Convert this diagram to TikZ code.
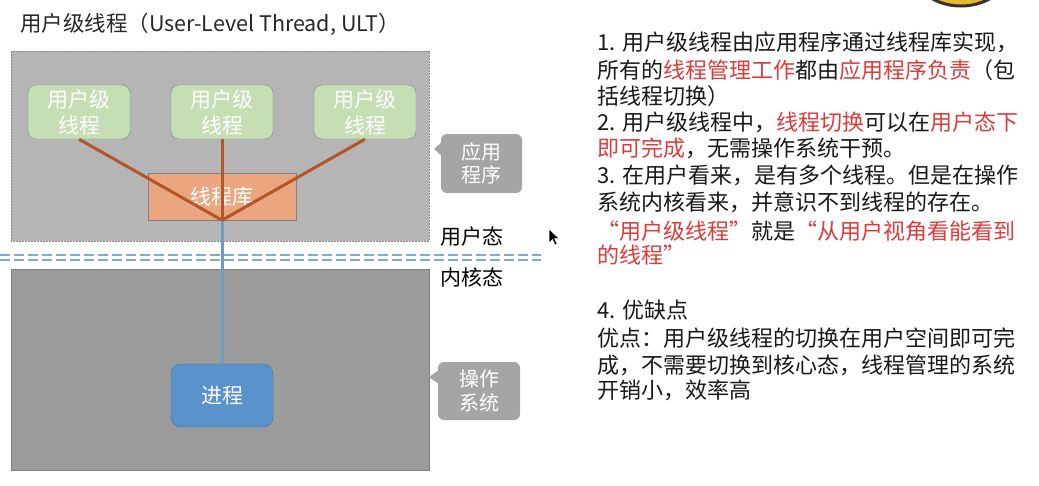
\documentclass[tikz,border=0pt]{standalone}
\usepackage{fontspec}
\setmainfont{Noto Sans CJK SC}
\usepackage{tikz}
\usetikzlibrary{positioning}

\definecolor{userPanel}{HTML}{B5B5B5}
\definecolor{kernelPanel}{HTML}{9B9B9B}
\definecolor{thrFill}{HTML}{C6DEB4}
\definecolor{thrLine}{HTML}{6F8F87}
\definecolor{libFill}{HTML}{E9A67F}
\definecolor{linkBrown}{HTML}{B4552A}
\definecolor{linkBlue}{HTML}{6C9BCB}
\definecolor{procFill}{HTML}{5A93CC}
\definecolor{procLine}{HTML}{44739F}
\definecolor{tagFill}{HTML}{A5A5A5}
\definecolor{modeBlue}{HTML}{7EA9DA}
\definecolor{hlred}{HTML}{E03A3A}
\definecolor{avatarYellow}{HTML}{E6B92A}
\newcommand{\redtxt}[1]{\textcolor{hlred}{#1}}

\begin{document}
\begin{tikzpicture}[x=1pt,y=-1pt,
  thread/.style={draw=thrLine, fill=thrFill, rounded corners=8pt, minimum width=102pt, minimum height=54pt,
    inner sep=0pt, align=center, text=white, font=\fontsize{21}{26}\selectfont},
  tag/.style={fill=tagFill, rounded corners=6pt, inner sep=0pt, align=center, text=white},
  link/.style={line width=3pt},
  note/.style={anchor=west, inner sep=0pt, font=\fontsize{22}{26}\selectfont, text=black!90}]
  \fill[white] (0,0) rectangle (1039,485);
  \useasboundingbox (0,0) rectangle (1039,485);
  \begin{scope}
    \clip (0,0) rectangle (1039,485);
    \filldraw[fill=avatarYellow, draw=black!80, line width=3pt] (961,-55) circle[radius=61pt];
  \end{scope}

  % panels and mode line
  \filldraw[fill=userPanel, draw=black!45, dash pattern=on 2pt off 1pt, line width=0.6pt] (11,51) rectangle (429,241);
  \filldraw[fill=kernelPanel, draw=black!50, line width=0.6pt] (11,269) rectangle (429,470);
  \draw[modeBlue, line width=2.2pt, dash pattern=on 10pt off 4pt] (0,255.3) -- (541,255.3) (0,259.7) -- (541,259.7);

  \node[anchor=west, inner sep=0pt, text=black!85, font=\fontsize{21.5}{24}\selectfont] (title) at (20,24) {用户级线程（User-Level Thread, ULT）};

  \node[thread] (t1) at (79,112) {用户级\\线程};
  \node[thread] (t2) at (222,112) {用户级\\线程};
  \node[thread] (t3) at (365,112) {用户级\\线程};
  \node[draw=black!50, fill=libFill, minimum width=148pt, minimum height=47pt, inner sep=0pt, text=white,
    font=\fontsize{21}{24}\selectfont] (lib) at (222,196.5) {线程库};
  \node[draw=procLine, fill=procFill, rounded corners=10pt, minimum width=102pt, minimum height=63pt, inner sep=0pt,
    text=white, font=\fontsize{21}{24}\selectfont] (proc) at (222,395.5) {进程};

  \path
  (lib.south) edge[link, linkBlue] (proc.north)
  (t1.south) edge[link, linkBrown] (lib.south)
  (t2.south) edge[link, linkBrown] (lib.south)
  (t3.south) edge[link, linkBrown] (lib.south)
  ;

  % callouts
  \node[tag, minimum width=81pt, minimum height=59pt, font=\fontsize{20}{22.5}\selectfont] (app) at (481.5,163.5) {应用\\程序};
  \coordinate (app-tip) at (434,149);
  \fill[tagFill] ([xshift=1pt,yshift=21.5pt]app.west) -- (app-tip) -- ([xshift=1pt,yshift=7.5pt]app.west) -- cycle;
  \node[tag, minimum width=82pt, minimum height=58pt, font=\fontsize{20}{24}\selectfont] (os) at (479,391) {操作\\系统};
  \coordinate (os-tip) at (429,377);
  \fill[tagFill] ([xshift=1pt,yshift=21pt]os.west) -- (os-tip) -- ([xshift=1pt,yshift=7pt]os.west) -- cycle;

  \node[anchor=west, inner sep=0pt, font=\fontsize{21}{24}\selectfont] (umode) at (440,237) {用户态};
  \node[anchor=west, inner sep=0pt, font=\fontsize{21}{24}\selectfont] (kmode) at (440,277) {内核态};

  % cursor
  \filldraw[fill=black, draw=white, line width=0.5pt] (549,229) -- (549,243) -- (552.5,239.5) -- (555,245) -- (557,244) -- (554.5,238.5) -- (559,238.5) -- cycle;

  % notes
  \node[note] (n1) at (597,42) {1. 用户级线程由应用程序通过线程库实现，};
  \node[note] (n2) at (597,70) {所有的\redtxt{线程管理工作}都由\redtxt{应用程序负责}（包};
  \node[note] (n3) at (597,96) {括线程切换）};
  \node[note] (n4) at (597,122) {2. 用户级线程中，\redtxt{线程切换}可以在\redtxt{用户态下}};
  \node[note] (n5) at (597,148) {\redtxt{即可完成}，无需操作系统干预。};
  \node[note] (n6) at (597,175) {3. 在用户看来，是有多个线程。但是在操作};
  \node[note] (n7) at (597,202) {系统内核看来，并意识不到线程的存在。};
  \node[note] (n8) at (597,231) {\redtxt{“用户级线程”}就是\redtxt{“从用户视角看能看到}};
  \node[note] (n9) at (597,255) {\redtxt{的线程”}};
  \node[note] (n10) at (597,310) {4. 优缺点};
  \node[note] (n11) at (597,338) {优点：用户级线程的切换在用户空间即可完};
  \node[note] (n12) at (597,365) {成，不需要切换到核心态，线程管理的系统};
  \node[note] (n13) at (597,390) {开销小，效率高};
\end{tikzpicture}
\end{document}
